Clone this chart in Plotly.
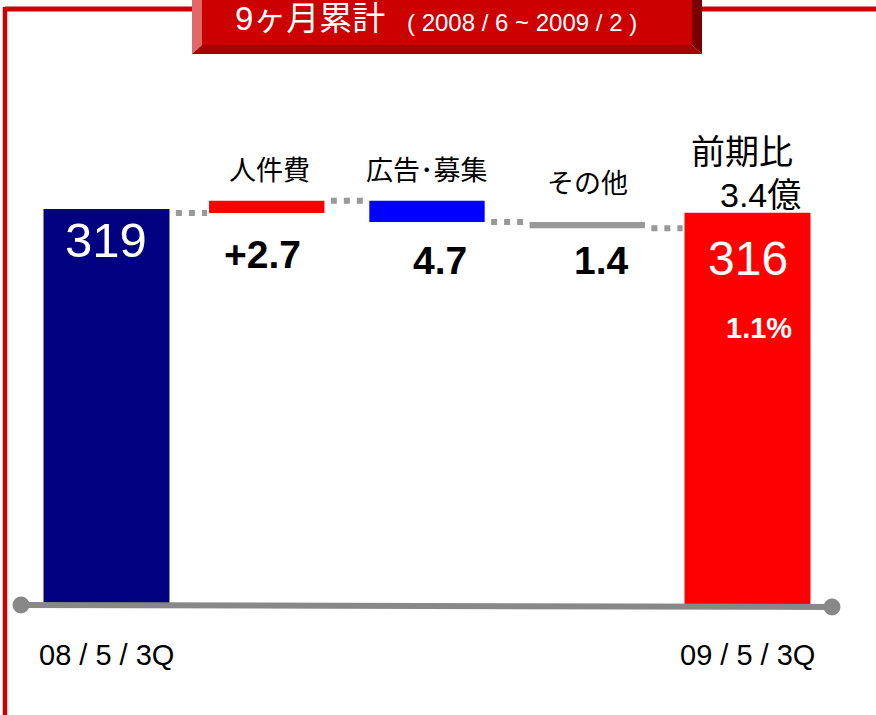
import plotly.graph_objects as go

# ---------------- data ----------------
categories = ["08/5/3Q", "人件費", "広告･募集", "その他", "09/5/3Q"]
start_value = 319
end_value = 316
delta_names = ["人件費", "広告･募集", "その他"]
delta_values = [2.7, -4.7, -1.4]
delta_labels = ["+2.7", "4.7", "1.4"]
period_labels = ["08 / 5 / 3Q", "09 / 5 / 3Q"]
yoy_title = "前期比"
yoy_amount = "3.4億"
yoy_pct = "1.1%"
title_main = "9ヶ月累計"
title_sub = "( 2008 / 6 ~ 2009 / 2 )"

# ---------------- geometry helpers ----------------
W, H = 876, 715
def px(x):
    return x / W
def py(y):
    return 1 - y / H

FONT = "Liberation Sans, Arial, Noto Sans CJK JP, sans-serif"

# x scale: category index -> pixel (center 106.5 for 0, 747.5 for 4)
X0_PX, X_STEP = 106.5, 160.25
x_range = [-X0_PX / X_STEP, (W - X0_PX) / X_STEP]

# primary y: totals, zero-based
Y_ZERO_PX, Y_TOP_PX = 605, 209
s1 = (Y_ZERO_PX - Y_TOP_PX) / start_value
y_range = [-(H - Y_ZERO_PX) / s1, Y_ZERO_PX / s1]

# secondary y: magnified scale for the changes
s2 = 4.5
ref_px = 213
y2_range = [start_value - (H - ref_px) / s2, start_value + ref_px / s2]

MAIN_W = 0.786
DELTA_W = 0.72
GAP = 0.04

# cumulative levels
levels = [start_value]
for d in delta_values:
    levels.append(round(levels[-1] + d, 4))
bases = levels[:-1]
x_idx = list(range(len(categories)))
delta_x = x_idx[1:4]

fig = go.Figure()

# totals
fig.add_trace(go.Bar(
    x=[x_idx[0], x_idx[4]], y=[start_value, end_value],
    width=MAIN_W, marker=dict(color=["#000080", "#ff0000"], line=dict(width=0)),
    hoverinfo="skip", showlegend=False))

# changes
fig.add_trace(go.Bar(
    x=delta_x, y=delta_values, base=bases, yaxis="y2",
    width=DELTA_W, marker=dict(color=["#ff0000", "#0000ff", "#999999"], line=dict(width=0)),
    hoverinfo="skip", showlegend=False))

# connectors
widths = [MAIN_W, DELTA_W, DELTA_W, DELTA_W, MAIN_W]
cx, cy = [], []
for i in range(4):
    x_start = x_idx[i] + widths[i] / 2 + GAP
    x_end = x_idx[i + 1] - widths[i + 1] / 2 - GAP * 0.3
    cx += [x_start, x_end, None]
    cy += [levels[i], levels[i], None]
fig.add_trace(go.Scatter(
    x=cx, y=cy, yaxis="y2", mode="lines",
    line=dict(color="#999999", width=6, dash="6px,7px"),
    hoverinfo="skip", showlegend=False))

# ---------------- shapes ----------------
RED = "#cc0000"
shapes = []
# frame lines
shapes.append(dict(type="line", xref="paper", yref="paper",
                   x0=px(5), x1=px(W + 2), y0=py(9), y1=py(9),
                   line=dict(color=RED, width=5)))
shapes.append(dict(type="line", xref="paper", yref="paper",
                   x0=px(5), x1=px(5), y0=py(7), y1=py(H + 2),
                   line=dict(color=RED, width=4.5)))

def poly(points, color):
    d = "M " + " L ".join(f"{px(a):.5f},{py(b):.5f}" for a, b in points) + " Z"
    return dict(type="path", xref="paper", yref="paper", path=d,
                fillcolor=color, line=dict(width=0))

# title box with bevels
shapes.append(poly([(202, -2), (692, -2), (692, 45), (202, 45)], "#cc0000"))
shapes.append(poly([(192, -2), (202, -2), (202, 45), (192, 54)], "#e06868"))
shapes.append(poly([(192, 54), (202, 45), (692, 45), (702, 54)], "#a80000"))
shapes.append(poly([(692, -2), (702, -2), (702, 54), (692, 45)], "#780000"))

# baseline axis with round ends
AX_COL = "#888888"
shapes.append(dict(type="line", xref="paper", yref="paper",
                   x0=px(21), x1=px(832), y0=py(605), y1=py(607),
                   line=dict(color=AX_COL, width=6), layer="above"))
for cxp, cyp in [(21, 605), (832, 607)]:
    r = 8.5
    shapes.append(dict(type="circle", xref="paper", yref="paper",
                       x0=px(cxp - r), x1=px(cxp + r), y0=py(cyp + r), y1=py(cyp - r),
                       fillcolor=AX_COL, line=dict(width=0), layer="above"))

# ---------------- annotations ----------------
ann = []
def add_text(text, x, y, size, color="#000000", bold=False, xref="x", xanchor="center", xshift=0):
    t = f"<b>{text}</b>" if bold else text
    ann.append(dict(text=t, x=x, xref=xref, y=py(y), yref="paper",
                    xanchor=xanchor, yanchor="middle", xshift=xshift,
                    showarrow=False, font=dict(family=FONT, size=size, color=color)))

# title
add_text(title_main, px(233), 19, 33, color="#ffffff", xref="paper", xanchor="left")
add_text(title_sub, px(405), 22, 24, color="#ffffff", xref="paper", xanchor="left")

# change names & values
name_y = [171, 171, 184]
name_shift = [3, 0, 0]
val_y = [254, 260, 260]
val_shift = [-4, 13, 14]
for i, xi in enumerate(delta_x):
    add_text(delta_names[i], xi, name_y[i], 27, xshift=name_shift[i])
    add_text(delta_labels[i], xi, val_y[i], 39, bold=True, xshift=val_shift[i])

# totals labels
add_text(str(start_value), x_idx[0], 240, 49, color="#ffffff", xshift=-1)
add_text(str(end_value), x_idx[4], 259, 48, color="#ffffff")
add_text(yoy_pct, x_idx[4], 328, 29, color="#ffffff", bold=True, xshift=11)
add_text(yoy_title, x_idx[4], 152, 34, xshift=-6)
add_text(yoy_amount, x_idx[4], 195, 34, xshift=13)

# period labels
for lbl, xi in zip(period_labels, [x_idx[0], x_idx[4]]):
    add_text(lbl, xi, 655, 29)

fig.update_layout(
    width=W, height=H,
    margin=dict(l=0, r=0, t=0, b=0, autoexpand=False),
    paper_bgcolor="#ffffff", plot_bgcolor="#ffffff",
    barmode="overlay",
    xaxis=dict(range=x_range, visible=False, domain=[0, 1], fixedrange=True),
    yaxis=dict(range=y_range, visible=False, domain=[0, 1], fixedrange=True),
    yaxis2=dict(range=y2_range, visible=False, overlaying="y", fixedrange=True),
    shapes=shapes,
    annotations=ann,
    showlegend=False,
)

fig.write_html("out.html", config={"displayModeBar": False},
               post_script="document.body.style.margin='0px';")
